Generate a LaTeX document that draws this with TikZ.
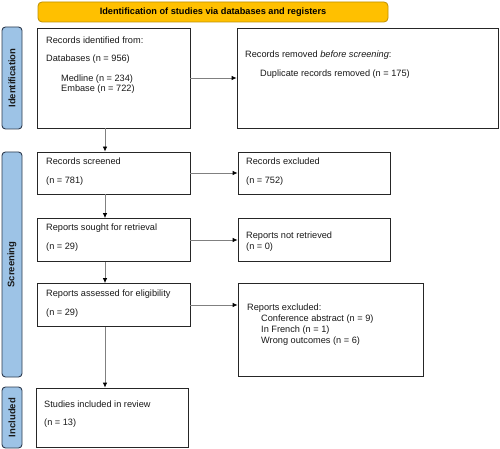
\documentclass[tikz,border=0pt]{standalone}
\usepackage{fontspec}
\setmainfont{Liberation Sans}
\usetikzlibrary{arrows.meta}
\definecolor{barfill}{HTML}{FFC000}
\definecolor{barline}{HTML}{BF9000}
\definecolor{sidefill}{HTML}{9DC3E6}
\definecolor{sideline}{HTML}{2E3B4E}
\begin{document}
\begin{tikzpicture}[x=1pt,y=-1pt,
  box/.style={draw=black!85,line width=0.8pt,inner sep=0pt,fill=white},
  side/.style={draw=sideline,line width=0.9pt,fill=sidefill,rounded corners=3.5pt,inner sep=0pt},
  sidetxt/.style={rotate=90,font=\fontsize{9.5}{11}\selectfont\bfseries,text=black!90,inner sep=0pt},
  txt/.style={anchor=west,inner sep=0pt,font=\fontsize{9.2}{11}\selectfont,text=black!90},
  arr/.style={draw=black!50,line width=0.8pt,-{Latex[length=5pt,width=4.5pt,black]}}
]
\useasboundingbox (0,0) rectangle (500,449);
% title bar
\node[draw=barline,line width=0.8pt,fill=barfill,rounded corners=4pt,minimum width=350pt,minimum height=20pt,inner sep=0pt,font=\fontsize{9.2}{11}\selectfont\bfseries] (title) at (213,12) {Identification of studies via databases and registers};
% side bars
\node[side,minimum width=20pt,minimum height=102pt] (sid) at (12,78) {};
\node[sidetxt] (sidt) at (sid.center) {Identification};
\node[side,minimum width=20pt,minimum height=225pt] (sscr) at (12,264.5) {};
\node[sidetxt] (sscrt) at (sscr.center) {Screening};
\node[side,minimum width=20pt,minimum height=61pt] (sinc) at (12,417.5) {};
\node[sidetxt] (sinct) at (sinc.center) {Included};
% boxes
\node[box,minimum width=153pt,minimum height=100pt] (b1) at (113.5,78) {};
\node[box,minimum width=261pt,minimum height=100pt] (b2) at (367.5,78) {};
\node[box,minimum width=153pt,minimum height=42pt] (b3) at (113.5,173) {};
\node[box,minimum width=152pt,minimum height=42pt] (b4) at (314,173) {};
\node[box,minimum width=153pt,minimum height=43pt] (b5) at (113.5,240) {};
\node[box,minimum width=152pt,minimum height=43pt] (b6) at (314,240) {};
\node[box,minimum width=153pt,minimum height=43pt] (b7) at (113.5,305) {};
\node[box,minimum width=185pt,minimum height=93pt] (b8) at (330.5,329.5) {};
\node[box,minimum width=152pt,minimum height=59pt] (b9) at (112,417.5) {};
% texts
\node[txt] (t1a) at (46,40) {Records identified from:};
\node[txt] (t1b) at (46,59) {Databases (n = 956)};
\node[txt] (t1c) at (61,79) {Medline (n = 234)};
\node[txt] (t1d) at (61,89) {Embase (n = 722)};
\node[txt] (t2a) at (245,55) {Records removed \emph{before screening}:};
\node[txt] (t2b) at (260,74) {Duplicate records removed (n = 175)};
\node[txt] (t3a) at (46,161) {Records screened};
\node[txt] (t3b) at (46,181) {(n = 781)};
\node[txt] (t4a) at (246,161) {Records excluded};
\node[txt] (t4b) at (246,181) {(n = 752)};
\node[txt] (t5a) at (46,228) {Reports sought for retrieval};
\node[txt] (t5b) at (46,247) {(n = 29)};
\node[txt] (t6a) at (246,236) {Reports not retrieved};
\node[txt] (t6b) at (246,247) {(n = 0)};
\node[txt] (t7a) at (46,294) {Reports assessed for eligibility};
\node[txt] (t7b) at (46,313) {(n = 29)};
\node[txt] (t8a) at (247,308) {Reports excluded:};
\node[txt] (t8b) at (261,319) {Conference abstract (n = 9)};
\node[txt] (t8c) at (261,330) {In French (n = 1)};
\node[txt] (t8d) at (261,341) {Wrong outcomes (n = 6)};
\node[txt] (t9a) at (44,404) {Studies included in review};
\node[txt] (t9b) at (44,423) {(n = 13)};
% connectors
\draw[arr] (b1.east) -- (b2.west);
\draw[arr] (b3.east) -- (b4.west);
\draw[arr] (b5.east) -- (b6.west);
\draw[arr] (b7.east) -- (b7.east -| b8.west);
\draw[arr] ([xshift=-8.5pt]b1.south) -- ([xshift=-8.5pt]b3.north);
\draw[arr] ([xshift=-8.5pt]b3.south) -- ([xshift=-8.5pt]b5.north);
\draw[arr] ([xshift=-8.5pt]b5.south) -- ([xshift=-8.5pt]b7.north);
\draw[arr] ([xshift=-8.5pt]b7.south) -- ([xshift=-7pt]b9.north);
\end{tikzpicture}
\end{document}
